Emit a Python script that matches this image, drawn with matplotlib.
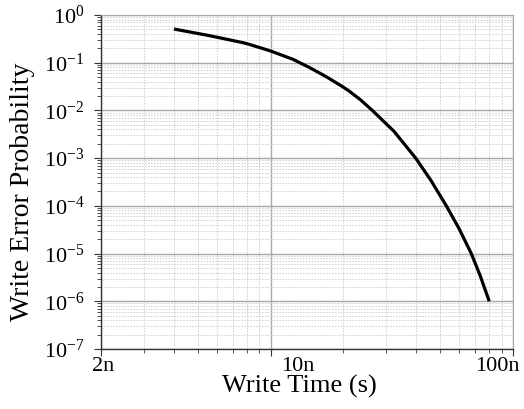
import numpy as np
import matplotlib
matplotlib.use("Agg")
import matplotlib.pyplot as plt
from matplotlib.ticker import LogLocator, FixedLocator, NullFormatter
from matplotlib.transforms import ScaledTranslation

plt.rcParams['font.family'] = ['Liberation Serif', 'DejaVu Serif']
plt.rcParams['mathtext.fontset'] = 'custom'
plt.rcParams['mathtext.rm'] = 'Liberation Serif'
plt.rcParams['mathtext.it'] = 'Liberation Serif:italic'

# Data (write time in ns, write error probability)
write_time_ns = [4.0, 5.62, 7.7, 8.05, 9.92, 12.37, 14.5, 16.97, 19.87, 21.2, 23.5,
                 26.3, 32.3, 39.7, 45.9, 53.1, 59.8, 67.3, 73.3, 79.8]
wer = [0.508, 0.368, 0.263, 0.248, 0.179, 0.118, 0.079, 0.0509, 0.0313, 0.025, 0.0167,
       1.0e-2, 3.65e-3, 1.0e-3, 3.4e-4, 1.0e-4, 3.4e-5, 1.0e-5, 3.4e-6, 1.0e-6]
x_ticks = [2e-9, 1e-8, 1e-7]
x_tick_labels = ['2n', '10n', '100n']
y_ticks = [1e-7, 1e-6, 1e-5, 1e-4, 1e-3, 1e-2, 1e-1, 1e0]

x = np.array(write_time_ns) * 1e-9
y = np.array(wer)

fig = plt.figure(figsize=(5.24, 4.09), dpi=100)
ax = fig.add_axes([101/524, 1 - 349/409, (513-101)/524, (349-15)/409])
ax.set_xscale('log')
ax.set_yscale('log')

ax.plot(x, y, color='black', lw=2.3, solid_joinstyle='round', solid_capstyle='butt')

ax.set_xlim(2e-9, 1e-7)
ax.set_ylim(1e-7, 1e0)

ax.xaxis.set_major_locator(FixedLocator(x_ticks))
ax.set_xticklabels(x_tick_labels)
ax.xaxis.set_minor_locator(LogLocator(base=10, subs=np.arange(2, 10), numticks=100))
ax.xaxis.set_minor_formatter(NullFormatter())

ax.yaxis.set_major_locator(FixedLocator(y_ticks))
ax.set_yticklabels([r'$\mathregular{10^{%d}}$' % int(np.log10(v)) for v in y_ticks])
ax.yaxis.set_minor_locator(LogLocator(base=10, subs=np.arange(2, 10), numticks=100))
ax.yaxis.set_minor_formatter(NullFormatter())

# grids
ax.grid(which='major', axis='both', color='#a8a8a8', lw=1.0, ls='-')
ax.grid(which='minor', axis='both', color='#cccccc', lw=0.6, ls=(0, (2, 1.5)))
ax.set_axisbelow(True)

for s in ['top', 'right']:
    ax.spines[s].set_color('#a8a8a8')
for s in ['left', 'bottom']:
    ax.spines[s].set_color('#333333')
    ax.spines[s].set_linewidth(1.0)

ax.tick_params(which='major', direction='out', length=5, width=0.8, colors='#333333',
               labelcolor='black', labelsize=16)
ax.tick_params(which='minor', direction='out', length=3, width=0.6, colors='#333333')
ax.tick_params(axis='x', pad=1)
ax.tick_params(axis='y', pad=7)

# shift x tick labels as in the reference
offsets_px = [2, 27, -16]
for lab, dx in zip(ax.get_xticklabels(), offsets_px):
    lab.set_transform(lab.get_transform() + ScaledTranslation(dx / 100, 0, fig.dpi_scale_trans))

ax.set_xlabel('Write Time (s)', fontsize=19, labelpad=-1)
ax.xaxis.label.set_x((299.5 - 101) / 412)
ax.set_ylabel('Write Error Probability', fontsize=20, labelpad=6)
ax.yaxis.label.set_y(1 - (192 - 15) / 334)

fig.savefig('out.png', dpi=100)
